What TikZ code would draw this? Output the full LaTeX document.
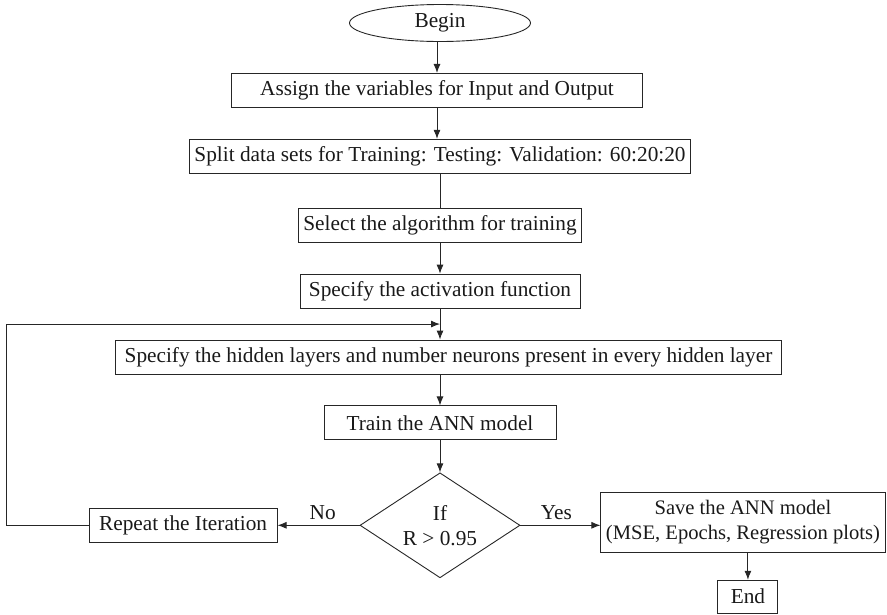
\documentclass[tikz,border=0pt]{standalone}
\usepackage{fontspec}
\setmainfont{Liberation Serif}
\usepackage{tikz}
\usetikzlibrary{shapes,arrows.meta,positioning,calc}

\begin{document}
\begin{tikzpicture}[
    x=1pt, y=1pt,
    node distance=31pt,
    every node/.style={font=\fontsize{21.3}{25}\selectfont, text=black!90},
    block/.style={rectangle, draw=black!85, line width=0.9pt, minimum height=34pt, inner xsep=5pt, inner ysep=2pt, align=center},
    startstop/.style={ellipse, draw=black!85, line width=0.9pt, minimum width=181pt, minimum height=37pt},
    decision/.style={diamond, draw=black!85, line width=0.9pt, minimum width=160pt, minimum height=105pt, inner sep=0pt, aspect=1.5, align=center},
    line/.style={draw=black!85, line width=0.9pt, -{Latex[length=9pt,width=7pt]}},
    plain/.style={draw=black!85, line width=0.9pt}
]
\useasboundingbox (0,0) rectangle (887,-614);

% Main column
\node[startstop] (begin) at (440,-23) {Begin};
\node[block, minimum width=411pt, below=31pt of begin, xshift=-3pt] (assign) {Assign the variables for Input and Output};
\node[block, minimum width=487pt, below=of assign, xshift=3pt] (split) {Split data sets for Training: Testing: Validation: 60:20:20};
\node[block, minimum width=280pt, below=34pt of split] (select) {Select the algorithm for training};
\node[block, minimum width=280pt, below=of select] (activation) {Specify the activation function};
\node[block, minimum width=666pt, below=of activation, xshift=8.5pt] (hidden) {Specify the hidden layers and number neurons present in every hidden layer};
\node[block, minimum width=232pt, below=of hidden, xshift=-8.5pt] (train) {Train the ANN model};

% Decision
\node[decision, below=32pt of train] (check) {If\\R > 0.95};
\node[block, minimum width=188pt, left=82pt of check] (repeat) {Repeat the Iteration};
\node[block, minimum width=282pt, minimum height=60pt, right=80pt of check, yshift=3pt, font=\fontsize{20.6}{25}\selectfont] (save) {Save the ANN model\\(MSE, Epochs, Regression plots)};
\node[block, minimum width=60pt, minimum height=33pt, below=27pt of save, xshift=5pt] (end) {End};

% Merge point of the loop
\coordinate (merge) at ($(activation.south)!0.5!(activation.south |- hidden.north)$);

% Connections
\path [line] (begin.south -| assign) -- (assign);
\path [line] (assign) -- (assign |- split.north);
\path [plain] (split) -- (select);
\path [line] (select) -- (activation);
\path [line] (activation) -- (activation.south |- hidden.north);
\path [line] (hidden.south -| train) -- (train);
\path [line] (train) -- (check);
\path [line] (check) -- node[above=2pt, pos=0.45] {No} (repeat);
\path [line] (check.east) -- node[above=2pt, pos=0.45] {Yes} (check.east -| save.west);
\path [line] (save.south -| end) -- (end);
\path [line] (repeat.west) -- ++(-82,0) |- (merge);

\end{tikzpicture}
\end{document}
